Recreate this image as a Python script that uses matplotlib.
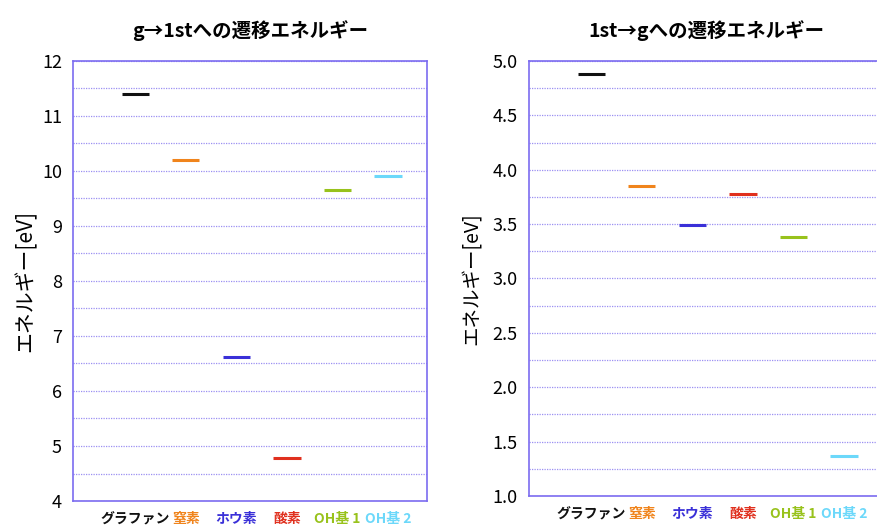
import matplotlib
matplotlib.use("Agg")
import matplotlib.pyplot as plt
from matplotlib.ticker import MultipleLocator

plt.rcParams['font.family'] = ['Noto Sans CJK JP', 'DejaVu Sans']

categories = ["グラファン", "窒素", "ホウ素", "酸素", "OH基 1", "OH基 2"]
colors = ["#111111", "#f0841c", "#3a30d8", "#e0301e", "#98c21c", "#6cd8fa"]
g_to_1st = [11.40, 10.20, 6.62, 4.78, 9.65, 9.91]
first_to_g = [4.88, 3.85, 3.49, 3.78, 3.38, 1.37]

titles = ["g→1stへの遷移エネルギー", "1st→gへの遷移エネルギー"]
ylabel = "エネルギー[eV]"

spine_col = "#7c6cf0"
grid_col = "#8a7cf0"

fig = plt.figure(figsize=(8.77, 5.26), dpi=100)
ax1 = fig.add_axes([73/877, 1-501/526, 354/877, 440/526])
ax2 = fig.add_axes([529/877, 1-496/526, 354/877, 435/526])

specs = [
    (ax1, g_to_1st, (4, 12), 1.0, 0.5, "{:.0f}", 15, 4),
    (ax2, first_to_g, (1.0, 5.0), 0.5, 0.25, "{:.1f}", 14, 7),
]

for i, (ax, vals, ylim, major, minor, fmt, ylfs, ylpad) in enumerate(specs):
    x = list(range(len(categories)))
    ax.hlines(vals, [xi - 0.27 for xi in x], [xi + 0.27 for xi in x],
              colors=colors, linewidth=2.2, zorder=3)
    ax.set_xlim(-1.23, 5.77)
    ax.set_ylim(*ylim)
    ax.yaxis.set_major_locator(MultipleLocator(major))
    ax.yaxis.set_minor_locator(MultipleLocator(minor))
    ax.yaxis.set_major_formatter(matplotlib.ticker.FuncFormatter(lambda v, p, f=fmt: f.format(v)))
    ax.grid(True, axis='y', which='both', color=grid_col, linestyle=(0, (1, 1)), linewidth=0.9, alpha=0.85)
    ax.set_xticks(x)
    ax.set_xticklabels(categories, fontsize=10, fontweight='bold')
    for lbl, c in zip(ax.get_xticklabels(), colors):
        lbl.set_color(c)
    ax.tick_params(axis='both', which='both', length=0)
    ax.tick_params(axis='y', labelsize=13, pad=8)
    ax.tick_params(axis='x', pad=8)
    for s in ax.spines.values():
        s.set_color(spine_col)
        s.set_linewidth(1.2)
    ax.set_ylabel(ylabel, fontsize=ylfs, labelpad=ylpad)
    ax.set_title(titles[i], fontsize=14, fontweight='bold', pad=17)

fig.savefig("out.png", dpi=100)
